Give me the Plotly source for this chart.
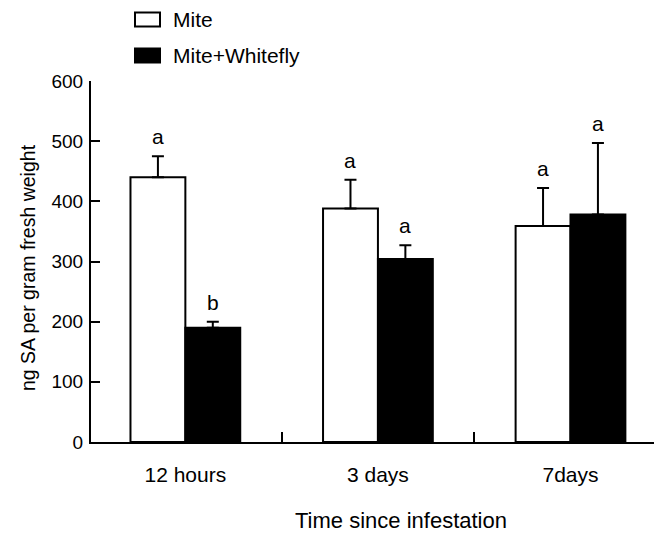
import plotly.graph_objects as go

categories = ["12 hours", "3 days", "7days"]
mite = [440, 388, 359]
mite_err = [35, 48, 63]
mite_wf = [190, 304, 378]
mite_wf_err = [10, 23, 119]
mite_letters = ["a", "a", "a"]
mite_wf_letters = ["b", "a", "a"]
y_ticks = [0, 100, 200, 300, 400, 500, 600]

FONT = "Liberation Sans, Arial, sans-serif"

# page body has an 8px margin; compensate so the plot lands where the reference is
W, H = 654, 527
L, R, T, B = 83, 1, 73, 93
PW, PH = W - L - R, H - T - B
ox, oy = 8 + L, 8 + T  # page position of plot-area top-left


def px(xp):
    return (xp - ox) / PW


def py(yp):
    return 1 - (yp - oy) / PH


fig = go.Figure()
fig.add_bar(
    x=categories, y=mite, name="Mite",
    marker=dict(color="white", line=dict(color="black", width=2)),
    error_y=dict(type="data", array=mite_err, arrayminus=[0] * 3, symmetric=False,
                 color="black", thickness=2, width=6),
    showlegend=False,
)
fig.add_bar(
    x=categories, y=mite_wf, name="Mite+Whitefly",
    marker=dict(color="black", line=dict(color="black", width=2)),
    error_y=dict(type="data", array=mite_wf_err, arrayminus=[0] * 3, symmetric=False,
                 color="black", thickness=2, width=6),
    showlegend=False,
)

off = 0.143
for i, c in enumerate(categories):
    for dx, v, e, t in [(-off, mite[i], mite_err[i], mite_letters[i]),
                        (off, mite_wf[i], mite_wf_err[i], mite_wf_letters[i])]:
        fig.add_annotation(x=i + dx, y=v + e, text=t, showarrow=False,
                           yanchor="bottom", yshift=6,
                           font=dict(family=FONT, size=21, color="black"))

# legend drawn manually
legend_items = [("Mite", "white", 19.5), ("Mite+Whitefly", "black", 55.5)]
for label, col, yc in legend_items:
    fig.add_shape(type="rect", xref="paper", yref="paper",
                  x0=px(135), x1=px(160), y0=py(yc - 7), y1=py(yc + 7),
                  fillcolor=col, line=dict(color="black", width=2))
    fig.add_annotation(xref="paper", yref="paper", x=px(171), y=py(yc),
                       text=label, showarrow=False, xanchor="left", yanchor="middle",
                       font=dict(family=FONT, size=21, color="black"))

# axis titles
fig.add_annotation(xref="paper", yref="paper", x=px(401), y=py(520),
                   text="Time since infestation", showarrow=False,
                   xanchor="center", yanchor="middle",
                   font=dict(family=FONT, size=22, color="black"))
fig.add_annotation(xref="paper", yref="paper", x=px(28), y=py(268),
                   text="ng SA per gram fresh weight", showarrow=False, textangle=-90,
                   xanchor="center", yanchor="middle",
                   font=dict(family=FONT, size=19.5, color="black"))

fig.update_layout(
    width=W, height=H,
    margin=dict(l=L, r=R, t=T, b=B),
    paper_bgcolor="white", plot_bgcolor="white",
    barmode="group", bargap=0.43, bargroupgap=0,
    font=dict(family=FONT, size=20, color="black"),
)
fig.update_xaxes(
    type="category", range=[-0.49, 2.47],
    showline=True, linecolor="black", linewidth=2,
    ticks="inside", tickson="boundaries", ticklen=10, tickwidth=2, tickcolor="black",
    showgrid=False, zeroline=False,
    tickfont=dict(family=FONT, size=21), ticklabelstandoff=13,
)
fig.update_yaxes(
    range=[0, 600], tickvals=y_ticks,
    showline=True, linecolor="black", linewidth=2,
    ticks="inside", ticklen=9, tickwidth=2, tickcolor="black",
    showgrid=False, zeroline=False,
    tickfont=dict(family=FONT, size=19), ticklabelstandoff=2,
)

fig.write_html("out.html")
